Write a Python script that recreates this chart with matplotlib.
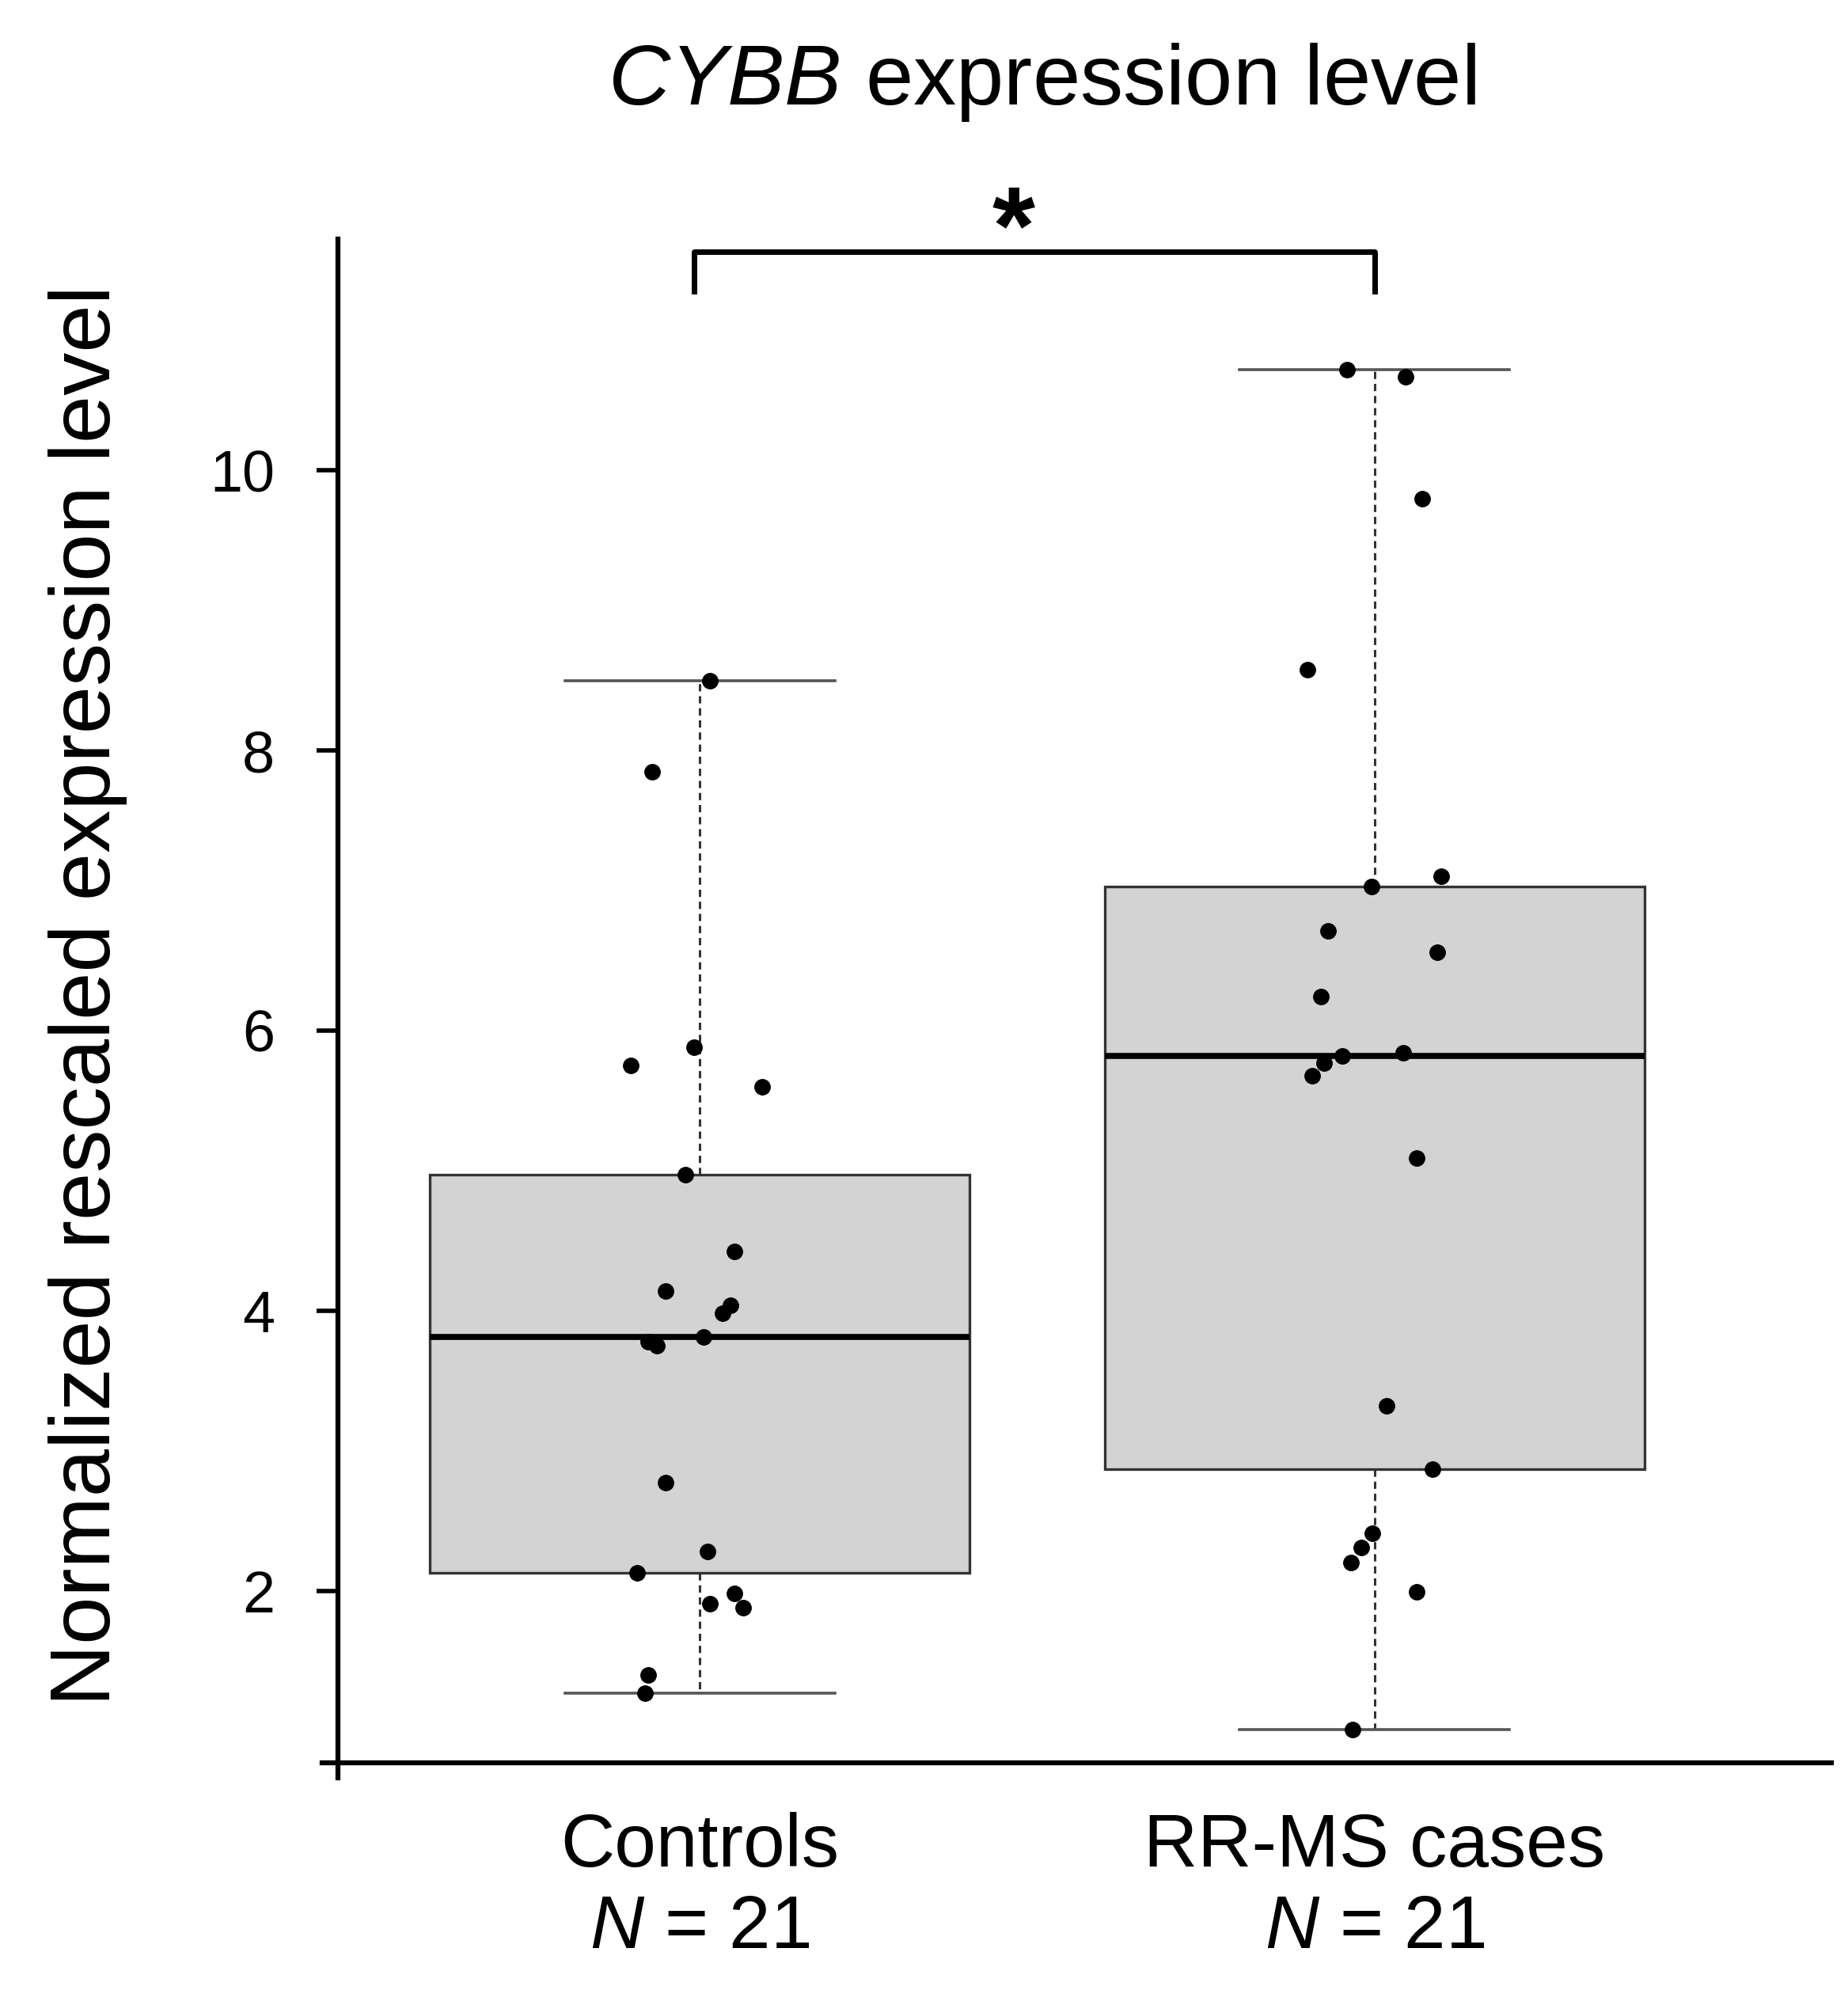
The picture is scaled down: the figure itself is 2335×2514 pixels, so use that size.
import numpy as np
import matplotlib
matplotlib.use('Agg')
import matplotlib.pyplot as plt

plt.rcParams['font.family'] = ['Liberation Sans', 'DejaVu Sans']
plt.rcParams['mathtext.fontset'] = 'custom'
plt.rcParams['mathtext.rm'] = 'Liberation Sans'
plt.rcParams['mathtext.it'] = 'Liberation Sans:italic'

# data
groups = ['Controls', 'RR-MS cases']
n_labels = ['$N$ = 21', '$N$ = 21']
controls = [8.50, 7.85, 5.88, 5.75, 5.60, 4.97, 4.42, 4.14, 4.04, 3.98, 3.78,
            3.75, 3.81, 2.77, 2.28, 2.13, 1.98, 1.91, 1.88, 1.40, 1.27]
controls_jit = [0.015, -0.070, -0.008, -0.102, 0.093, -0.021, 0.051, -0.051, 0.045, 0.034, -0.076,
                -0.064, 0.006, -0.051, 0.011, -0.093, 0.051, 0.015, 0.064, -0.076, -0.081]
cases = [10.72, 10.67, 9.80, 8.58, 7.10, 7.03, 6.71, 6.56, 6.24, 5.84, 5.82,
         5.77, 5.68, 5.09, 3.32, 2.87, 2.41, 2.31, 2.20, 1.99, 1.01]
cases_jit = [-0.041, 0.046, 0.071, -0.099, 0.099, -0.005, -0.069, 0.093, -0.080, 0.042, -0.048,
             -0.075, -0.092, 0.063, 0.018, 0.086, -0.003, -0.020, -0.035, 0.063, -0.033]
yticks = [2, 4, 6, 8, 10]


def fivenum_stats(v, label):
    # R style boxplot stats (Tukey hinges)
    x = np.sort(np.asarray(v))
    n = len(x)
    n4 = np.floor((n + 3) / 2) / 2
    d = np.array([1, n4, (n + 1) / 2, n + 1 - n4, n]) - 1
    f = 0.5 * (x[np.floor(d).astype(int)] + x[np.ceil(d).astype(int)])
    iqr = f[3] - f[1]
    lo = x[x >= f[1] - 1.5 * iqr].min()
    hi = x[x <= f[3] + 1.5 * iqr].max()
    return dict(label=label, med=f[2], q1=f[1], q3=f[3], whislo=lo, whishi=hi, fliers=[])


fig = plt.figure(figsize=(23.35, 25.14), dpi=100)
ax = fig.add_axes([0.1828, 0.1142, 0.8082, 0.7658])

stats = [fivenum_stats(controls, groups[0]), fivenum_stats(cases, groups[1])]
ax.bxp(stats, positions=[1, 2], widths=0.8, capwidths=0.4, patch_artist=True, showfliers=False,
       boxprops=dict(facecolor='#D3D3D3', edgecolor='#333333', linewidth=2.4),
       medianprops=dict(color='black', linewidth=5.5),
       whiskerprops=dict(color='#333333', linewidth=2.2, linestyle=(0, (3, 2))),
       capprops=dict(color='#555555', linewidth=2.6))

ax.plot(1 + np.array(controls_jit), controls, 'o', color='black', markersize=14, zorder=5)
ax.plot(2 + np.array(cases_jit), cases, 'o', color='black', markersize=14, zorder=5)

ax.set_xlim(0.4636, 2.677)
ax.set_ylim(0.7716, 11.654)
for s in ax.spines.values():
    s.set_visible(False)
ax.plot([0, 0], [-0.01, 1], transform=ax.transAxes, clip_on=False, color='black', lw=4.5)
ax.plot([-0.0106, 1], [0, 0], transform=ax.transAxes, clip_on=False, color='black', lw=4.5)

ax.set_yticks(yticks)
ax.set_yticklabels([str(t) for t in yticks])
ax.tick_params(axis='y', direction='out', length=19.5, width=4, pad=38, labelsize=53)
ax.set_xticks([1, 2])
ax.set_xticklabels([g + '\n' + n for g, n in zip(groups, n_labels)])
ax.tick_params(axis='x', length=0, pad=45, labelsize=68)

# significance bracket
ax.plot([0.992, 0.992, 2.0, 2.0], [11.28, 11.563, 11.563, 11.28], color='black', lw=5, clip_on=False)
ax.text(1.465, 11.32, '*', ha='center', va='bottom', fontsize=100, fontweight='bold', clip_on=False)

fig.text(0.564, 0.9475, '$CYBB$ expression level', ha='center', va='baseline', fontsize=78)
fig.text(0.0476, 0.4996, 'Normalized rescaled expression level', rotation=90,
         ha='center', va='center', fontsize=78)

fig.savefig('out.png', dpi=100)
